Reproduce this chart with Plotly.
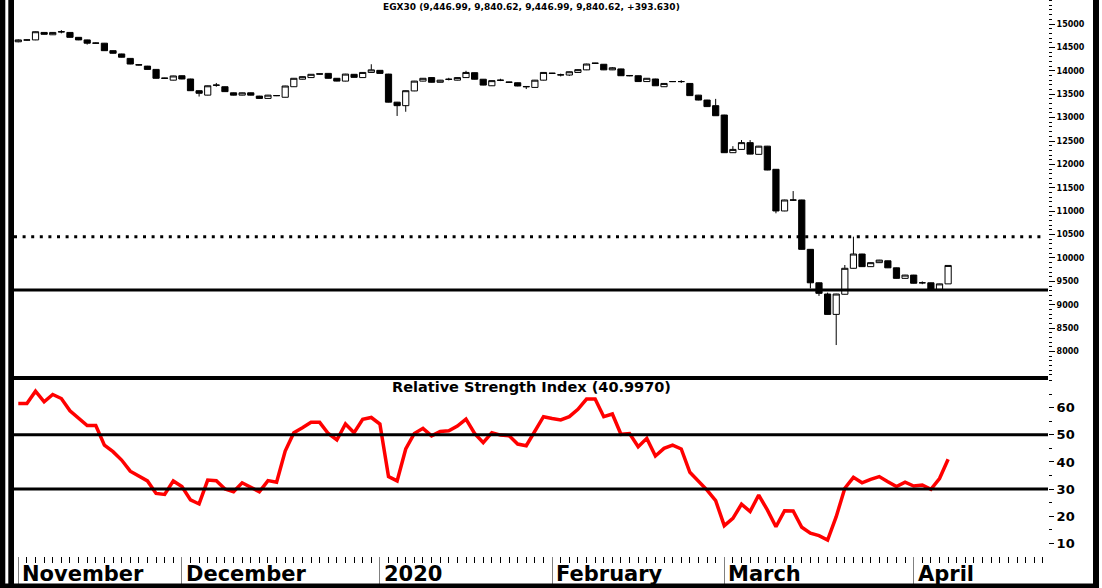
import plotly.graph_objects as go

# ---------------- data ----------------
opens = [14620, 14655, 14660, 14820, 14770, 14830, 14820, 14715, 14660, 14595,
         14590, 14430, 14360, 14265, 14130, 14100, 14030, 13845, 13800, 13895,
         13825, 13575, 13480, 13690, 13660, 13530, 13480, 13530, 13460, 13410,
         13470, 13435, 13660, 13820, 13855, 13935, 13945, 13840, 13780, 13925,
         13855, 13965, 14010, 13930, 13330, 13255, 13570, 13780, 13855, 13755,
         13815, 13800, 13855, 13960, 13820, 13680, 13795, 13760, 13745, 13665,
         13645, 13800, 13950, 13910, 13910, 13965, 14020, 14165, 14140, 14020,
         14040, 13900, 13895, 13770, 13825, 13660, 13770, 13770, 13730, 13480,
         13375, 13255, 13055, 12250, 12320, 12465, 12215, 12390, 11895, 11005,
         11235, 11240, 10185, 9470, 9230, 8795, 9225, 9780, 10085, 9815,
         9900, 9940, 9790, 9565, 9635, 9470, 9470, 9330, 9446.99]
highs = [14670, 14670, 14840, 14825, 14825, 14870, 14825, 14720, 14665, 14605,
         14595, 14435, 14365, 14270, 14135, 14105, 14035, 13850, 13895, 13900,
         13830, 13580, 13685, 13740, 13665, 13535, 13535, 13535, 13465, 13485,
         13480, 13680, 13845, 13880, 13930, 13940, 13950, 13845, 13935, 13930,
         13970, 14140, 14015, 13935, 13335, 13580, 13785, 13845, 13860, 13805,
         13850, 13860, 14000, 13965, 13825, 13795, 13830, 13765, 13750, 13670,
         13805, 13970, 13955, 13940, 13985, 14030, 14150, 14170, 14145, 14080,
         14045, 13905, 13900, 13845, 13830, 13735, 13775, 13800, 13735, 13485,
         13380, 13400, 13060, 12390, 12520, 12520, 12395, 12395, 11900, 11245,
         11430, 11245, 10190, 9475, 9260, 9235, 9850, 10455, 10090, 9905,
         9960, 9945, 9795, 9640, 9640, 9500, 9475, 9450, 9840.62]
lows = [14610, 14645, 14655, 14775, 14765, 14800, 14710, 14655, 14560, 14585,
        14425, 14370, 14285, 14140, 14115, 14025, 13835, 13830, 13795, 13820,
        13570, 13450, 13475, 13660, 13550, 13475, 13475, 13475, 13400, 13405,
        13460, 13430, 13655, 13815, 13850, 13920, 13835, 13775, 13775, 13855,
        13850, 13960, 13940, 13325, 13035, 13125, 13565, 13775, 13750, 13750,
        13795, 13795, 13850, 13815, 13690, 13675, 13780, 13745, 13670, 13610,
        13640, 13795, 13935, 13880, 13890, 13960, 14015, 14150, 14015, 14015,
        13890, 13885, 13765, 13765, 13675, 13655, 13760, 13740, 13465, 13370,
        13230, 13035, 12245, 12245, 12315, 12215, 12210, 11875, 10955, 11000,
        11220, 10180, 9350, 9190, 8790, 8140, 9220, 9775, 9810, 9810,
        9895, 9785, 9560, 9560, 9455, 9440, 9310, 9310, 9446.99]
closes = [14660, 14660, 14835, 14780, 14820, 14835, 14715, 14660, 14590, 14590,
          14430, 14375, 14290, 14145, 14125, 14030, 13840, 13840, 13890, 13825,
          13575, 13520, 13680, 13695, 13555, 13480, 13530, 13480, 13410, 13480,
          13470, 13675, 13840, 13875, 13925, 13930, 13840, 13780, 13930, 13860,
          13965, 14020, 13945, 13330, 13255, 13575, 13780, 13840, 13755, 13800,
          13820, 13855, 13965, 13820, 13695, 13790, 13800, 13755, 13675, 13660,
          13800, 13965, 13945, 13915, 13980, 14025, 14145, 14160, 14020, 14065,
          13895, 13895, 13770, 13840, 13680, 13730, 13770, 13770, 13470, 13375,
          13235, 13040, 12250, 12320, 12465, 12220, 12390, 11880, 11005, 11240,
          11240, 10185, 9470, 9245, 8795, 9230, 9780, 10085, 9815, 9900,
          9955, 9790, 9565, 9635, 9460, 9470, 9315, 9446.99, 9840.62]
rsi = [61.6, 61.6, 66.1, 62.2, 64.9, 63.4, 58.9, 56.1, 53.4, 53.4,
       46.2, 43.8, 40.7, 36.6, 34.9, 33.0, 28.4, 28.0, 33.0, 30.9,
       26.0, 24.5, 33.3, 33.1, 30.0, 29.0, 32.3, 30.5, 29.0, 33.1,
       32.5, 44.0, 50.8, 52.6, 54.6, 54.6, 50.5, 48.1, 54.0, 50.8,
       55.7, 56.4, 54.0, 34.6, 33.0, 44.8, 50.5, 52.4, 49.6, 51.2,
       51.5, 53.2, 55.8, 50.5, 47.1, 50.8, 49.9, 49.7, 46.6, 46.0,
       51.2, 56.7, 56.0, 55.5, 56.7, 59.4, 63.2, 63.2, 56.7, 57.7,
       50.2, 50.5, 45.6, 48.7, 42.2, 45.0, 46.2, 44.8, 36.2, 33.0,
       29.6, 25.7, 16.5, 19.2, 24.4, 21.7, 27.8, 22.3, 16.1, 22.0,
       21.9, 15.9, 13.7, 12.8, 11.2, 19.8, 30.3, 34.3, 32.3, 33.6,
       34.6, 32.7, 30.9, 32.5, 31.1, 31.5, 29.9, 33.9, 41.0]
month_labels = ["November", "December", "2020", "February", "March", "April"]
month_starts = [0, 19, 42, 62, 82, 104]
support_level = 9316
resistance_level = 10455
rsi_levels = [30, 50]
price_ticks = [8000, 8500, 9000, 9500, 10000, 10500, 11000, 11500, 12000,
               12500, 13000, 13500, 14000, 14500, 15000]
rsi_ticks = [10, 20, 30, 40, 50, 60]
title_text = "EGX30 (9,446.99, 9,840.62, 9,446.99, 9,840.62, +393.630)"
rsi_title = "Relative Strength Index (40.9970)"

# ---------------- layout helpers ----------------
W, H = 1102, 588
ML, MR, MT, MB = 14, 54, 0, 32
PW = W - ML - MR
PH = H - MT - MB
FONT = "DejaVu Sans"


def px(xp):
    return (xp - ML) / PW


def py(yp):
    return (PH - (yp - MT)) / PH


idx = list(range(len(closes)))
x_range = [-0.5, 119.6]

fig = go.Figure()
fig.add_trace(go.Candlestick(
    x=idx, open=opens, high=highs, low=lows, close=closes,
    increasing=dict(fillcolor="white", line=dict(color="black", width=1)),
    decreasing=dict(fillcolor="black", line=dict(color="black", width=1)),
    whiskerwidth=0, xaxis="x", yaxis="y", showlegend=False, hoverinfo="skip"))
fig.add_trace(go.Scatter(
    x=idx, y=rsi, mode="lines", line=dict(color="#ff0000", width=3.5),
    xaxis="x2", yaxis="y2", showlegend=False, hoverinfo="skip"))

shapes = []
shapes.append(dict(type="line", xref="paper", yref="y", x0=0, x1=1,
                   y0=support_level, y1=support_level,
                   line=dict(color="black", width=3)))
shapes.append(dict(type="line", xref="paper", yref="y", x0=0, x1=0.995,
                   y0=resistance_level, y1=resistance_level,
                   line=dict(color="black", width=3, dash="3px,5.6px")))
for lv in rsi_levels:
    shapes.append(dict(type="line", xref="paper", yref="y2", x0=0, x1=1,
                       y0=lv, y1=lv, line=dict(color="black", width=3)))
shapes.append(dict(type="line", xref="paper", yref="paper", x0=0, x1=1,
                   y0=py(378), y1=py(378), line=dict(color="black", width=4)))
for (a, b) in [(0, 5.3), (8.3, 14), (1093, 1099)]:
    shapes.append(dict(type="rect", xref="paper", yref="paper",
                       x0=px(a), x1=px(b), y0=py(H), y1=py(0),
                       fillcolor="black", line=dict(width=0)))
shapes.append(dict(type="rect", xref="paper", yref="paper",
                   x0=px(0), x1=px(1099), y0=py(588), y1=py(583.5),
                   fillcolor="black", line=dict(width=0)))

annotations = [
    dict(text=title_text, xref="paper", yref="paper", x=0.5, y=py(7),
         xanchor="center", yanchor="middle", showarrow=False,
         font=dict(family=FONT, size=9, color="black", weight="bold")),
    dict(text=rsi_title, xref="paper", yref="paper", x=0.5, y=py(387),
         xanchor="center", yanchor="middle", showarrow=False,
         font=dict(family=FONT, size=14.5, color="black", weight="bold")),
]
for lab, st in zip(month_labels, month_starts):
    annotations.append(dict(text=lab, xref="x2", yref="paper", x=st, y=py(574),
                            xanchor="left", yanchor="middle", xshift=2,
                            showarrow=False,
                            font=dict(family=FONT, size=21, color="black",
                                      weight="bold")))

fig.update_layout(
    width=W, height=H,
    margin=dict(l=ML, r=MR, t=MT, b=MB, autoexpand=False),
    paper_bgcolor="white", plot_bgcolor="white",
    showlegend=False,
    boxgap=0.2, boxgroupgap=0.1,
    xaxis=dict(domain=[0, 1], anchor="y", range=x_range, automargin=False,
               showticklabels=False, ticks="", showgrid=False,
               zeroline=False, showline=False,
               rangeslider=dict(visible=False)),
    xaxis2=dict(domain=[0, 1], anchor="y2", range=x_range, matches="x",
                automargin=False,
                tickmode="array", tickvals=month_starts, ticks="outside",
                ticklen=29, tickwidth=1, tickcolor="#808080",
                showticklabels=False, showgrid=False, zeroline=False,
                showline=False,
                minor=dict(tickmode="linear", tick0=0, dtick=1,
                           ticks="outside", ticklen=6, tickwidth=1,
                           tickcolor="black", showgrid=False)),
    yaxis=dict(domain=[py(377), 1], anchor="x", side="right", automargin=False,
               range=[7457, 15513], tickmode="array", tickvals=price_ticks,
               tickformat="d",
               ticks="outside", ticklen=6, tickwidth=1, tickcolor="black",
               tickfont=dict(family=FONT, size=8, color="black", weight="bold"),
               showgrid=False, zeroline=False, showline=False,
               minor=dict(tickmode="linear", tick0=0, dtick=100,
                          ticks="outside", ticklen=3, tickwidth=1,
                          tickcolor="black", showgrid=False)),
    yaxis2=dict(domain=[0, py(379)], anchor="x2", side="right", automargin=False,
                range=[5.3, 70.6], tickmode="array", tickvals=rsi_ticks,
                tickformat="d",
                ticks="outside", ticklen=5, tickwidth=1, tickcolor="black",
                tickfont=dict(family=FONT, size=13, color="black",
                              weight="bold"),
                showgrid=False, zeroline=False, showline=False,
                minor=dict(tickmode="linear", tick0=0, dtick=5,
                           ticks="outside", ticklen=3, tickwidth=1,
                           tickcolor="black", showgrid=False)),
    shapes=shapes,
    annotations=annotations,
)

fig.write_html("out.html",
               config={"displayModeBar": False, "staticPlot": True},
               post_script="document.body.style.margin='0';"
                           "document.body.style.overflow='hidden';")
